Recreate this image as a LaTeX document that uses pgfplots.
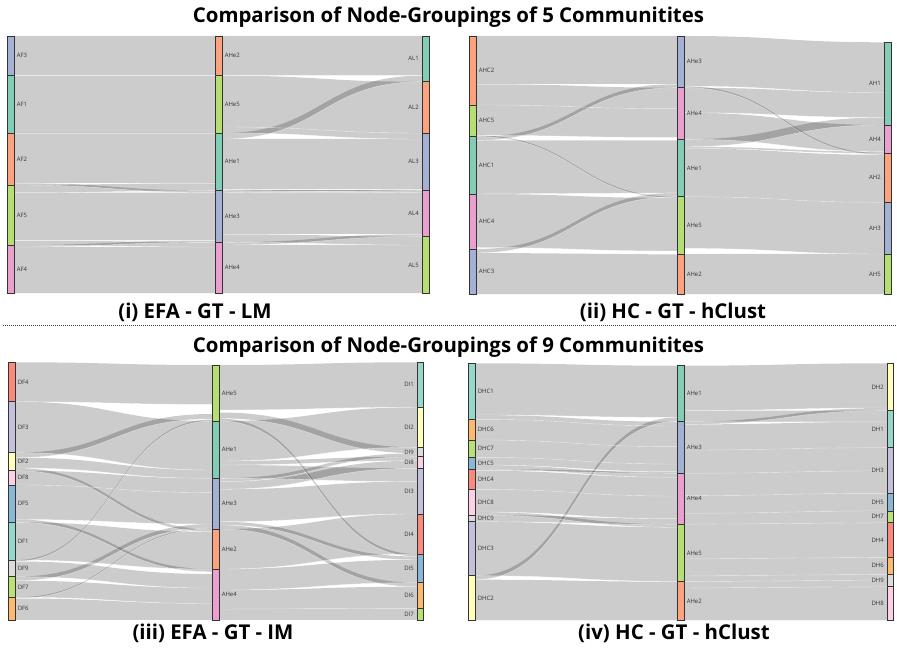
\documentclass[border=0pt]{standalone}
\usepackage{fontspec}
\setmainfont{Open Sans}
\usepackage{pgfplots}
\usepackage{pgfplotstable}
\pgfplotsset{compat=1.18}
\usepgfplotslibrary{patchplots}

\definecolor{s2T}{HTML}{66C2A5}\colorlet{sT}{s2T!82!white}
\definecolor{s2O}{HTML}{FC8D62}\colorlet{sO}{s2O!82!white}
\definecolor{s2B}{HTML}{8DA0CB}\colorlet{sB}{s2B!82!white}
\definecolor{s2P}{HTML}{E78AC3}\colorlet{sP}{s2P!82!white}
\definecolor{s2G}{HTML}{A6D854}\colorlet{sG}{s2G!82!white}
\definecolor{s3T}{HTML}{8DD3C7}\colorlet{tT}{s3T!92!white}
\definecolor{s3Y}{HTML}{FFFFB3}\colorlet{tY}{s3Y!92!white}
\definecolor{s3L}{HTML}{BEBADA}\colorlet{tL}{s3L!92!white}
\definecolor{s3R}{HTML}{FB8072}\colorlet{tR}{s3R!92!white}
\definecolor{s3B}{HTML}{80B1D3}\colorlet{tB}{s3B!92!white}
\definecolor{s3O}{HTML}{FDB462}\colorlet{tO}{s3O!92!white}
\definecolor{s3N}{HTML}{B3DE69}\colorlet{tN}{s3N!92!white}
\definecolor{s3P}{HTML}{FCCDE5}\colorlet{tP}{s3P!92!white}
\definecolor{s3K}{HTML}{D9D9D9}\colorlet{tK}{s3K!92!white}

% flows: source x, target x, source top/bottom, target top/bottom (pixels)
\pgfplotstableread{
xa xb sa sb ta tb
14 215 36 75.7 36 75.7
14 215 75.7 133 75.7 133
14 215 133 183 133 183
14 215 183 185 190.7 192.7
14 215 185 192.7 183 190.7
14 215 192.7 240.3 192.7 240.3
14 215 240.3 245 242.3 247
14 215 245 247 240.3 242.3
14 215 247 293.3 247 293.3
222 422 36 75.7 36 75.7
222 422 75.7 127 81.7 133
222 422 127 133 133 139
222 422 133 139 75.7 81.7
222 422 139 188.9 139 188.9
222 422 188.9 190.7 190.7 192.5
222 422 190.7 192.5 188.9 190.7
222 422 192.5 234 192.5 234
222 422 234 242.3 236.7 245
222 422 242.3 245 234 236.7
222 422 245 293.3 245 293.3
476 677 36 84 36 84
476 677 84 105 87.7 108.7
476 677 105 135.4 108.7 137.5
476 677 135.4 136.7 196.7 198
476 677 136.7 140.4 84 87.7
476 677 140.4 194 140.5 192.9
476 677 194 247.5 198 251
476 677 249 252.8 192.9 196.7
476 677 252.8 294.3 254.5 294.3
684 884 36 86.2 42.3 92.5
684 884 86.2 87.7 153.3 154.8
684 884 87.7 112.7 92.5 117.5
684 884 112.7 139.3 125 151.6
684 884 139.3 146.8 117.5 125
684 884 146.8 148.5 151.6 153.3
684 884 148.5 196.7 154.8 202.3
684 884 196.7 248.4 202.3 254
684 884 254 294.3 254 294.3
15 212 362.3 401.7 365 404.4
15 212 401.7 452.7 421 470
15 212 452.7 457.7 414 419
15 212 457.7 468 470 478.3
15 212 468 470.7 529 531.7
15 212 470.7 485 478.3 492.6
15 212 485 519.5 492.6 524
15 212 519.5 522.3 569 571.8
15 212 522.3 560 531.7 569
15 212 560 561.5 419.5 421
15 212 561.5 576.7 574 588
15 212 576.7 580.7 524 528
15 212 580.7 597.3 588 603.5
15 212 597.3 598.5 528 529
15 212 598.5 620 603.5 620
219 417 365 410 362.3 407.3
219 417 412.5 418.5 447.3 453.3
219 417 418.5 421 554 556.5
219 417 421 461 407.3 447.3
219 417 461 465 456.7 460.7
219 417 465 478.3 468.3 481.6
219 417 478.3 481.7 453.3 456.7
219 417 481.7 489.3 460.7 468.3
219 417 489.3 521.7 481.6 514
219 417 521.7 525 556.5 559.8
219 417 525 529 582.7 586.7
219 417 529 569 514 554
219 417 569 590 559.8 582.7
219 417 590 609 586.7 608.3
219 417 609 620 608.3 620
475 677 363.3 415 365.7 417.4
475 677 415 419.3 421.7 426
475 677 419.3 440 426 446.7
475 677 440 457.3 446.7 464
475 677 457.3 465 464 471.7
475 677 465 469 473.3 477.3
475 677 469 470.6 471.7 473.3
475 677 470.6 489.3 477.3 496
475 677 489.3 512 496 518.7
475 677 512 515 524.3 527.3
475 677 515 521.7 518.7 524.3
475 677 521.7 575.7 527.3 581.3
475 677 575.7 579.7 417.4 421.4
475 677 579.7 620.7 581.7 620.7
684 887 365.7 410.5 363.3 408
684 887 410.5 421.7 410.7 421.9
684 887 421.7 424.4 408 410.7
684 887 424.4 450 421.9 447.7
684 887 450 473.3 447.7 471
684 887 473.3 495.6 471 493.3
684 887 495.6 513.3 493.3 511
684 887 513.3 524.3 511 522.7
684 887 524.3 559 522.7 557.3
684 887 559 576 557.3 574.3
684 887 576 581.7 574.3 580
684 887 581.7 588 580 586.7
684 887 588 620.7 586.7 620.7
}\flowtab

% nodes: x0 x1 y0 y1 colour label side
\pgfplotstableread{
x0 x1 y0 y1 c lab s
7 14 36 75.7 sB AF3 l
7 14 75.7 133 sT AF1 l
7 14 133 185 sO AF2 l
7 14 185 245 sG AF5 l
7 14 245 293.3 sP AF4 l
215 222 36 75.7 sO AHe2 l
215 222 75.7 133 sG AHe5 l
215 222 133 190.7 sT AHe1 l
215 222 190.7 242.3 sB AHe3 l
215 222 242.3 293.3 sP AHe4 l
422 429 36 81.7 sT AL1 r
422 429 81.7 133 sO AL2 r
422 429 133 190.7 sB AL3 r
422 429 190.7 236.7 sP AL4 r
422 429 236.7 293.3 sG AL5 r
469 476 36 105 sO AHC2 l
469 476 105 136.7 sG AHC5 l
469 476 136.7 194 sT AHC1 l
469 476 194 249 sP AHC4 l
469 476 249 294.3 sB AHC3 l
677 684 36 87.7 sB AHe3 l
677 684 87.7 139.3 sP AHe4 l
677 684 139.3 196.7 sT AHe1 l
677 684 196.7 254 sG AHe5 l
677 684 254 294.3 sO AHe2 l
884 891 42.3 125 sT AH1 r
884 891 125 153.3 sP AH4 r
884 891 153.3 202.3 sO AH2 r
884 891 202.3 254 sB AH3 r
884 891 254 294.3 sG AH5 r
8 15 362.3 401.7 tR DF4 l
8 15 401.7 452.7 tL DF3 l
8 15 452.7 470.7 tY DF2 l
8 15 470.7 485 tP DF8 l
8 15 485 522.3 tB DF5 l
8 15 522.3 560 tT DF1 l
8 15 560 576.7 tK DF9 l
8 15 576.7 597.3 tN DF7 l
8 15 597.3 620 tO DF6 l
212 219 365 421 sG AHe5 l
212 219 421 478.3 sT AHe1 l
212 219 478.3 529 sB AHe3 l
212 219 529 569 sO AHe2 l
212 219 569 620 sP AHe4 l
417 423 362.3 407.3 tT DI1 r
417 423 407.3 447.3 tY DI2 r
417 423 447.3 456.7 tK DI9 r
417 423 456.7 468.3 tP DI8 r
417 423 468.3 514 tL DI3 r
417 423 514 554 tR DI4 r
417 423 554 582.7 tB DI5 r
417 423 582.7 608.3 tO DI6 r
417 423 608.3 620 tN DI7 r
468 475 363.3 419.3 tT DHC1 l
468 475 419.3 440 tO DHC6 l
468 475 440 457.3 tN DHC7 l
468 475 457.3 469 tB DHC5 l
468 475 469 489.3 tR DHC4 l
468 475 489.3 515 tP DHC8 l
468 475 515 521.7 tK DHC9 l
468 475 521.7 575.7 tL DHC3 l
468 475 575.7 620.7 tY DHC2 l
677 684 365.7 421.7 sT AHe1 l
677 684 421.7 473.3 sB AHe3 l
677 684 473.3 524.3 sP AHe4 l
677 684 524.3 581.7 sG AHe5 l
677 684 581.7 620.7 sO AHe2 l
887 893 363.3 410.7 tY DH2 r
887 893 410.7 447.7 tT DH1 r
887 893 447.7 493.3 tL DH3 r
887 893 493.3 511 tB DH5 r
887 893 511 522.7 tN DH7 r
887 893 522.7 557.3 tR DH4 r
887 893 557.3 574.3 tO DH6 r
887 893 574.3 586.7 tK DH9 r
887 893 586.7 620.7 tP DH8 r
}\nodetab

\pgfplotsset{
  flow/.style={patch, patch type=coons, shader=flat, point meta=0,
    fill opacity=0.2, draw opacity=0, line width=0pt},
  seam/.style={white, draw opacity=0.75, line width=0.3pt, mark=none},
  nodebar/.style={draw=black!80, line width=0.6pt, mark=none},
}
\tikzset{
  lbll/.style={anchor=west, inner sep=0pt, font=\fontsize{4.5pt}{5pt}\selectfont, text=black!80},
  lblr/.style={anchor=east, inner sep=0pt, font=\fontsize{4.5pt}{5pt}\selectfont, text=black!80},
  ttl/.style={inner sep=0pt, font=\fontsize{15.3pt}{18pt}\selectfont\bfseries},
}

\begin{document}
\begin{tikzpicture}
\begin{axis}[
  at={(0,0)}, anchor=south west,
  scale only axis, width=672.75pt, height=486pt,
  xmin=0, xmax=897, ymin=0, ymax=648, y dir=reverse,
  hide axis, clip=false,
  colormap={blk}{color=(black) color=(black)},
  point meta min=0, point meta max=1,
]
% flows
\pgfplotstablegetrowsof{\flowtab}
\pgfmathtruncatemacro\nflows{\pgfplotsretval-1}
\pgfplotsforeachungrouped \i in {0,...,\nflows}{%
  \pgfplotstablegetelem{\i}{xa}\of\flowtab\let\fXa\pgfplotsretval
  \pgfplotstablegetelem{\i}{xb}\of\flowtab\let\fXb\pgfplotsretval
  \pgfplotstablegetelem{\i}{sa}\of\flowtab\let\fSa\pgfplotsretval
  \pgfplotstablegetelem{\i}{sb}\of\flowtab\let\fSb\pgfplotsretval
  \pgfplotstablegetelem{\i}{ta}\of\flowtab\let\fTa\pgfplotsretval
  \pgfplotstablegetelem{\i}{tb}\of\flowtab\let\fTb\pgfplotsretval
  \pgfmathsetmacro\fXm{(\fXa+\fXb)/2}%
  \edef\cmd{\noexpand\addplot[flow] coordinates {(\fXa,\fSa) (\fXm,\fSa) (\fXm,\fTa) (\fXb,\fTa) (\fXb,\fTa) (\fXb,\fTb) (\fXb,\fTb) (\fXm,\fTb) (\fXm,\fSb) (\fXa,\fSb) (\fXa,\fSb) (\fXa,\fSa)};}%
  \cmd
}
% faint seams along the flow edges
\pgfplotsforeachungrouped \i in {0,...,\nflows}{%
  \pgfplotstablegetelem{\i}{xa}\of\flowtab\let\fXa\pgfplotsretval
  \pgfplotstablegetelem{\i}{xb}\of\flowtab\let\fXb\pgfplotsretval
  \pgfplotstablegetelem{\i}{sb}\of\flowtab\let\fSb\pgfplotsretval
  \pgfplotstablegetelem{\i}{tb}\of\flowtab\let\fTb\pgfplotsretval
  \pgfmathsetmacro\fXm{(\fXa+\fXb)/2}%
  \edef\cmd{\noexpand\addplot[patch, patch type=coons, shader=flat, point meta=0, fill opacity=0, draw=white, draw opacity=0.6, line width=0.3pt] coordinates {(\fXa,\fSb) (\fXm,\fSb) (\fXm,\fTb) (\fXb,\fTb) (\fXb,\fTb) (\fXb,\fTb) (\fXb,\fTb) (\fXm,\fTb) (\fXm,\fSb) (\fXa,\fSb) (\fXa,\fSb) (\fXa,\fSb)};}%
  \cmd
}
% nodes
\pgfplotstablegetrowsof{\nodetab}
\pgfmathtruncatemacro\nnodes{\pgfplotsretval-1}
\pgfplotsforeachungrouped \i in {0,...,\nnodes}{%
  \pgfplotstablegetelem{\i}{x0}\of\nodetab\let\nXa\pgfplotsretval
  \pgfplotstablegetelem{\i}{x1}\of\nodetab\let\nXb\pgfplotsretval
  \pgfplotstablegetelem{\i}{y0}\of\nodetab\let\nYa\pgfplotsretval
  \pgfplotstablegetelem{\i}{y1}\of\nodetab\let\nYb\pgfplotsretval
  \pgfplotstablegetelem{\i}{c}\of\nodetab\let\nC\pgfplotsretval
  \pgfplotstablegetelem{\i}{lab}\of\nodetab\let\nL\pgfplotsretval
  \pgfplotstablegetelem{\i}{s}\of\nodetab\let\nS\pgfplotsretval
  \pgfmathsetmacro\nYm{(\nYa+\nYb)/2}%
  \def\tmpl{l}%
  \ifx\nS\tmpl
    \pgfmathsetmacro\nLx{\nXb+2.5}%
  \else
    \pgfmathsetmacro\nLx{\nXa-3}%
  \fi
  \edef\cmd{\noexpand\addplot[nodebar, fill=\nC] coordinates {(\nXa,\nYa) (\nXb,\nYa) (\nXb,\nYb) (\nXa,\nYb)} -- cycle;
    \noexpand\node[lbl\nS] at (axis cs:\nLx,\nYm) {\nL};}%
  \cmd
}
% separator
\addplot[black!75, line width=0.75pt, dash pattern=on 0.75pt off 0.75pt] coordinates {(3,326) (897,326)};
% titles
\node[ttl] at (axis cs:448.5,17) {Comparison of Node-Groupings of 5 Communitites};
\node[ttl] at (axis cs:448.5,347) {Comparison of Node-Groupings of 9 Communitites};
\node[ttl] at (axis cs:195,312) {(i) EFA - GT - LM};
\node[ttl] at (axis cs:673,312) {(ii) HC - GT - hClust};
\node[ttl] at (axis cs:213,633) {(iii) EFA - GT - IM};
\node[ttl] at (axis cs:674,633) {(iv) HC - GT - hClust};
\end{axis}
\pgfresetboundingbox
\path (0,0) rectangle (672.75pt,486pt);
\end{tikzpicture}
\end{document}
